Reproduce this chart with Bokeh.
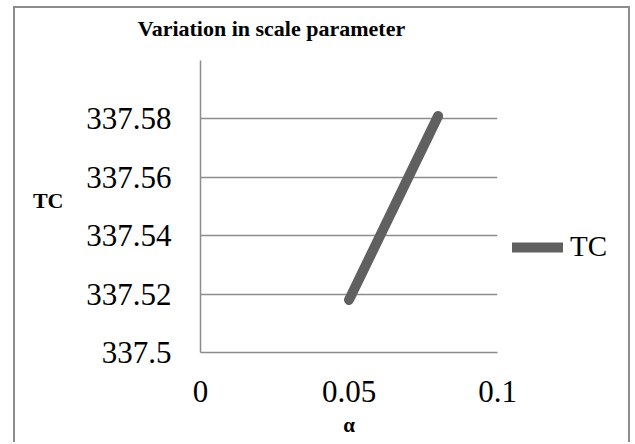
from bokeh.plotting import figure
from bokeh.models import (FixedTicker, CustomJSTickFormatter, Legend, ColumnDataSource,
                          LinearAxis)
from bokeh.embed import file_html
from bokeh.resources import INLINE

# ---- data ----
alpha = [0.05, 0.06, 0.07, 0.08]
tc = [337.518, 337.539, 337.560, 337.581]

x_ticks = [0, 0.05, 0.1]
x_labels = ["0", "0.05", "0.1"]
y_ticks = [337.5, 337.52, 337.54, 337.56, 337.58]
y_labels = ["337.5", "337.52", "337.54", "337.56", "337.58"]

title_text = "Variation in scale parameter"
x_title = "α"
y_title = "TC"
series_name = "TC"

SERIF = "Liberation Serif"
GRID = "#8c8c8c"
LINE = "#606060"
BORDER = "#8c8c8c"

p = figure(frame_width=297, frame_height=292, x_range=(0, 0.1), y_range=(337.5, 337.6),
           output_backend="svg", toolbar_location=None,
           min_border_left=200, min_border_right=135,
           min_border_top=60, min_border_bottom=90)
p.outline_line_color = None
p.background_fill_color = "white"
p.border_fill_color = None

# outer chart border (left, top, right) painted behind the transparent canvas margin
g = f"linear-gradient({BORDER},{BORDER})"
p.styles = {
    "background": (f"{g} 13px 6px / 617px 2px no-repeat, "
                   f"{g} 13px 6px / 2px 440px no-repeat, "
                   f"{g} 628px 6px / 2px 440px no-repeat, white"),
}

fmt_code = """
const i = tvals.findIndex(t => Math.abs(t - tick) < 1e-9);
return i >= 0 ? tlabs[i] : '';
"""
p.xaxis.ticker = FixedTicker(ticks=x_ticks)
p.xaxis.formatter = CustomJSTickFormatter(args=dict(tvals=x_ticks, tlabs=x_labels), code=fmt_code)
p.yaxis.ticker = FixedTicker(ticks=y_ticks)
p.yaxis.formatter = CustomJSTickFormatter(args=dict(tvals=y_ticks, tlabs=y_labels), code=fmt_code)

for ax in (p.xaxis, p.yaxis):
    ax.axis_line_color = GRID
    ax.axis_line_width = 1.5
    ax.major_tick_line_color = None
    ax.minor_tick_line_color = None
    ax.major_label_text_font = SERIF
    ax.major_label_text_font_size = "31px"
    ax.major_label_text_color = "black"
    ax.axis_label_text_font = SERIF
    ax.axis_label_text_font_size = "21px"
    ax.axis_label_text_font_style = "bold"
    ax.axis_label_text_color = "black"
p.xaxis.major_label_standoff = 22
p.yaxis.major_label_standoff = 23
p.xaxis.axis_label = x_title
p.xaxis.axis_label_standoff = 8


def text_axis(text, pos, size, standoff):
    # an axis with no line or ticks whose single label carries a chart caption
    return LinearAxis(ticker=FixedTicker(ticks=[pos]),
                      formatter=CustomJSTickFormatter(args=dict(t=text), code="return t;"),
                      axis_line_color=None, major_tick_line_color=None,
                      minor_tick_line_color=None,
                      major_label_text_font=SERIF, major_label_text_font_size=size,
                      major_label_text_font_style="bold", major_label_text_color="black",
                      major_label_standoff=standoff)


# horizontal "TC" axis title on the left, chart title above
p.add_layout(text_axis(y_title, 337.552, "22px", 14), "left")
p.add_layout(text_axis(title_text, 0.0239, "22px", 14), "above")

p.xgrid.grid_line_color = None
p.ygrid.grid_line_color = GRID
p.ygrid.grid_line_width = 1.5

src = ColumnDataSource(dict(x=alpha, y=tc))
r = p.line("x", "y", source=src, line_width=10, line_color=LINE, line_cap="round")

legend = Legend(items=[(series_name, [r])], location=(15, 89),
                glyph_width=51, glyph_height=30, label_standoff=7,
                padding=0, margin=0, spacing=0,
                border_line_color=None, background_fill_alpha=0,
                label_text_font=SERIF, label_text_font_size="29px",
                label_text_color="black")
p.add_layout(legend, "right")

open("out.html", "w").write(file_html(p, INLINE))
